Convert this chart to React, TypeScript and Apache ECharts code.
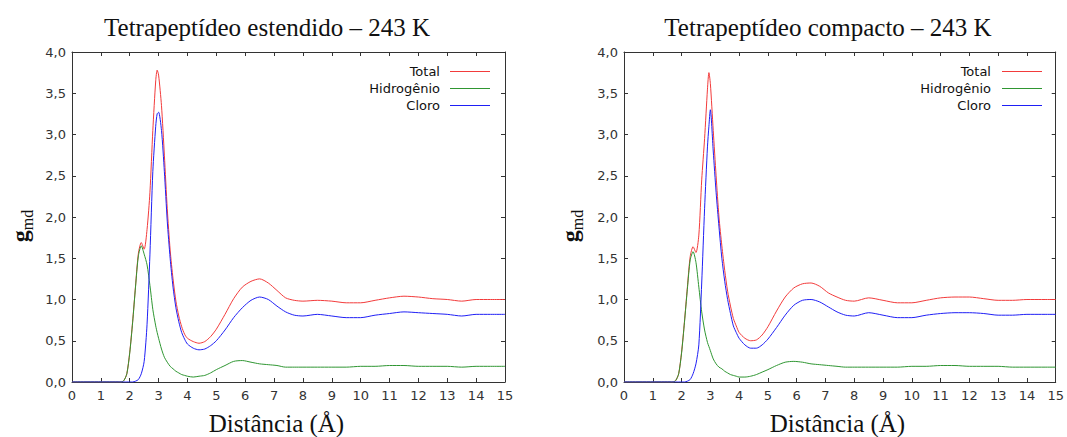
import React, { useEffect, useRef } from 'react';
import * as echarts from 'echarts';

const R = [0, 1.6, 1.7, 1.8, 1.9, 2.0, 2.1, 2.2, 2.3, 2.4, 2.5, 2.6, 2.7, 2.8, 2.9, 2.95, 3.0, 3.1, 3.2, 3.3, 3.4, 3.5, 3.6, 3.7, 3.8, 3.9, 4.0, 4.2, 4.4, 4.6, 4.8, 5.0, 5.3, 5.6, 5.9, 6.2, 6.5, 6.8, 7.1, 7.4, 7.7, 8.0, 8.5, 9.0, 9.5, 10.0, 10.5, 11.0, 11.5, 12.0, 12.5, 13.0, 13.5, 14.0, 14.5, 15.0];

// Tetrapeptídeo estendido
const totalEst = [0, 0, 0, 0.02, 0.1, 0.36, 0.73, 1.16, 1.56, 1.69, 1.61, 1.85, 2.3, 3.05, 3.65, 3.78, 3.72, 3.35, 2.75, 2.1, 1.6, 1.25, 0.98, 0.8, 0.67, 0.58, 0.53, 0.49, 0.47, 0.49, 0.55, 0.64, 0.82, 1.01, 1.15, 1.22, 1.25, 1.2, 1.11, 1.02, 0.99, 0.98, 0.99, 0.98, 0.96, 0.96, 0.99, 1.02, 1.04, 1.03, 1.01, 1.0, 0.98, 1.0, 1.0, 1.0];
const hidEst = [0, 0, 0, 0.02, 0.1, 0.35, 0.72, 1.15, 1.53, 1.65, 1.55, 1.42, 1.17, 0.88, 0.68, 0.6, 0.53, 0.4, 0.3, 0.24, 0.19, 0.16, 0.13, 0.11, 0.09, 0.08, 0.07, 0.06, 0.07, 0.08, 0.11, 0.15, 0.2, 0.25, 0.26, 0.24, 0.22, 0.21, 0.2, 0.18, 0.18, 0.18, 0.18, 0.18, 0.18, 0.19, 0.19, 0.2, 0.2, 0.19, 0.19, 0.19, 0.18, 0.19, 0.19, 0.19];
const cloEst = [0, 0, 0, 0, 0, 0, 0, 0.01, 0.03, 0.1, 0.25, 0.7, 1.55, 2.55, 3.1, 3.25, 3.27, 3.05, 2.55, 1.95, 1.5, 1.15, 0.9, 0.73, 0.6, 0.52, 0.46, 0.41, 0.39, 0.4, 0.44, 0.5, 0.63, 0.78, 0.9, 0.99, 1.03, 1.0, 0.92, 0.85, 0.81, 0.8, 0.82, 0.8, 0.78, 0.78, 0.81, 0.83, 0.85, 0.84, 0.83, 0.82, 0.8, 0.82, 0.82, 0.82];

// Tetrapeptídeo compacto
const totalComp = [0, 0, 0, 0.02, 0.1, 0.36, 0.73, 1.14, 1.52, 1.64, 1.57, 1.78, 2.45, 2.95, 3.55, 3.75, 3.62, 3.05, 2.5, 2.0, 1.65, 1.35, 1.1, 0.92, 0.77, 0.68, 0.6, 0.53, 0.5, 0.51, 0.57, 0.67, 0.86, 1.03, 1.14, 1.19, 1.2, 1.16, 1.08, 1.03, 0.99, 0.98, 1.02, 0.99, 0.96, 0.96, 0.99, 1.02, 1.03, 1.03, 1.01, 0.99, 0.99, 1.0, 1.0, 1.0];
const hidComp = [0, 0, 0, 0.02, 0.1, 0.35, 0.72, 1.12, 1.48, 1.58, 1.45, 1.15, 0.85, 0.63, 0.48, 0.43, 0.38, 0.28, 0.22, 0.18, 0.16, 0.13, 0.11, 0.09, 0.08, 0.07, 0.06, 0.06, 0.07, 0.09, 0.12, 0.15, 0.2, 0.24, 0.25, 0.24, 0.22, 0.21, 0.2, 0.19, 0.18, 0.18, 0.18, 0.18, 0.18, 0.19, 0.19, 0.2, 0.2, 0.19, 0.19, 0.19, 0.18, 0.18, 0.18, 0.18];
const cloComp = [0, 0, 0, 0, 0, 0, 0, 0.01, 0.03, 0.1, 0.22, 0.45, 1.2, 2.1, 2.85, 3.1, 3.3, 2.8, 2.3, 1.88, 1.5, 1.22, 1.0, 0.83, 0.68, 0.6, 0.53, 0.45, 0.41, 0.41, 0.45, 0.52, 0.66, 0.81, 0.93, 0.99, 1.0, 0.97, 0.91, 0.85, 0.81, 0.8, 0.84, 0.81, 0.78, 0.78, 0.81, 0.83, 0.84, 0.84, 0.83, 0.81, 0.81, 0.82, 0.82, 0.82];

const titles = ['Tetrapeptídeo estendido – 243 K', 'Tetrapeptídeo compacto – 243 K'];
const seriesNames = ['Total', 'Hidrogênio', 'Cloro'];
const colors = ['#f23b3b', '#2f9632', '#1f1ff5'];
const xName = 'Distância (Å)';

export default function App() {
  const ref = useRef<HTMLDivElement>(null);
  useEffect(() => {
    document.body.style.margin = '0';
    const chart = echarts.init(ref.current!, null, { renderer: 'svg' });
    const axisColor = '#333';
    const grids = [
      { left: 72, top: 52, width: 433, height: 330 },
      { left: 624, top: 52, width: 432, height: 330 },
    ];
    const xAxes: any[] = [];
    const yAxes: any[] = [];
    grids.forEach((_, gi) => {
      ['bottom', 'top'].forEach((pos) => {
        xAxes.push({
          type: 'value', gridIndex: gi, position: pos, min: 0, max: 15, interval: 1,
          axisLine: { show: true, onZero: false, lineStyle: { color: axisColor, width: 1 } },
          axisTick: { show: true, inside: true, length: 4, lineStyle: { color: axisColor } },
          axisLabel: { show: pos === 'bottom', margin: 7, color: '#333', fontSize: 13, fontFamily: 'DejaVu Sans' },
          splitLine: { show: false },
        });
      });
      ['left', 'right'].forEach((pos) => {
        yAxes.push({
          type: 'value', gridIndex: gi, position: pos, min: 0, max: 4, interval: 0.5,
          axisLine: { show: true, onZero: false, lineStyle: { color: axisColor, width: 1 } },
          axisTick: { show: true, inside: true, length: 4, lineStyle: { color: axisColor } },
          axisLabel: {
            show: pos === 'left', margin: 6, color: '#333', fontSize: 13, fontFamily: 'DejaVu Sans',
            formatter: (v: number) => v.toFixed(1).replace('.', ','),
          },
          splitLine: { show: false },
        });
      });
    });
    const dataSets = [
      [totalEst, hidEst, cloEst],
      [totalComp, hidComp, cloComp],
    ];
    const series: any[] = [];
    dataSets.forEach((set, gi) => {
      set.forEach((vals, si) => {
        series.push({
          type: 'line', name: seriesNames[si], xAxisIndex: gi * 2, yAxisIndex: gi * 2,
          data: R.map((r, i) => [r, vals[i]]),
          showSymbol: false, smooth: 0.25,
          lineStyle: { color: colors[si], width: 1 },
        });
      });
    });
    const graphic: any[] = [];
    const titleX = [267, 828];
    const legendTextX = [440, 991];
    const legendLineX = [450, 1002];
    const yNameX = [20, 570];
    titleX.forEach((tx, gi) => {
      graphic.push({
        type: 'text', x: tx, y: 27,
        style: { text: titles[gi], font: '25px "Liberation Serif"', fill: '#111', align: 'center', verticalAlign: 'middle' },
      });
      graphic.push({
        type: 'text', x: tx + 9.5, y: 423,
        style: { text: xName, font: '25px "Liberation Serif"', fill: '#111', align: 'center', verticalAlign: 'middle' },
      });
      graphic.push({
        type: 'text', x: yNameX[gi], y: 226, rotation: Math.PI / 2,
        style: {
          text: '{g|g}{s|md}', align: 'center', verticalAlign: 'middle', fill: '#111',
          rich: {
            g: { fontSize: 24, fontWeight: 'bold', fontFamily: 'Liberation Serif', fill: '#111' },
            s: { fontSize: 16, fontFamily: 'Liberation Serif', padding: [14, 0, 0, 0], fill: '#111' },
          },
        },
      });
      seriesNames.forEach((nm, si) => {
        const y = 71 + si * 17;
        graphic.push({
          type: 'text', x: legendTextX[gi], y,
          style: { text: nm, font: '13px "DejaVu Sans"', fill: '#111', align: 'right', verticalAlign: 'middle' },
        });
        graphic.push({
          type: 'line', shape: { x1: legendLineX[gi], y1: y + 0.5, x2: legendLineX[gi] + 40, y2: y + 0.5 },
          style: { stroke: colors[si], lineWidth: 1 },
        });
      });
    });
    chart.setOption({
      animation: false,
      backgroundColor: '#fff',
      grid: grids,
      xAxis: xAxes,
      yAxis: yAxes,
      series,
      graphic,
    });
    return () => chart.dispose();
  }, []);
  return <div ref={ref} style={{ width: 1067, height: 437 }} />;
}
